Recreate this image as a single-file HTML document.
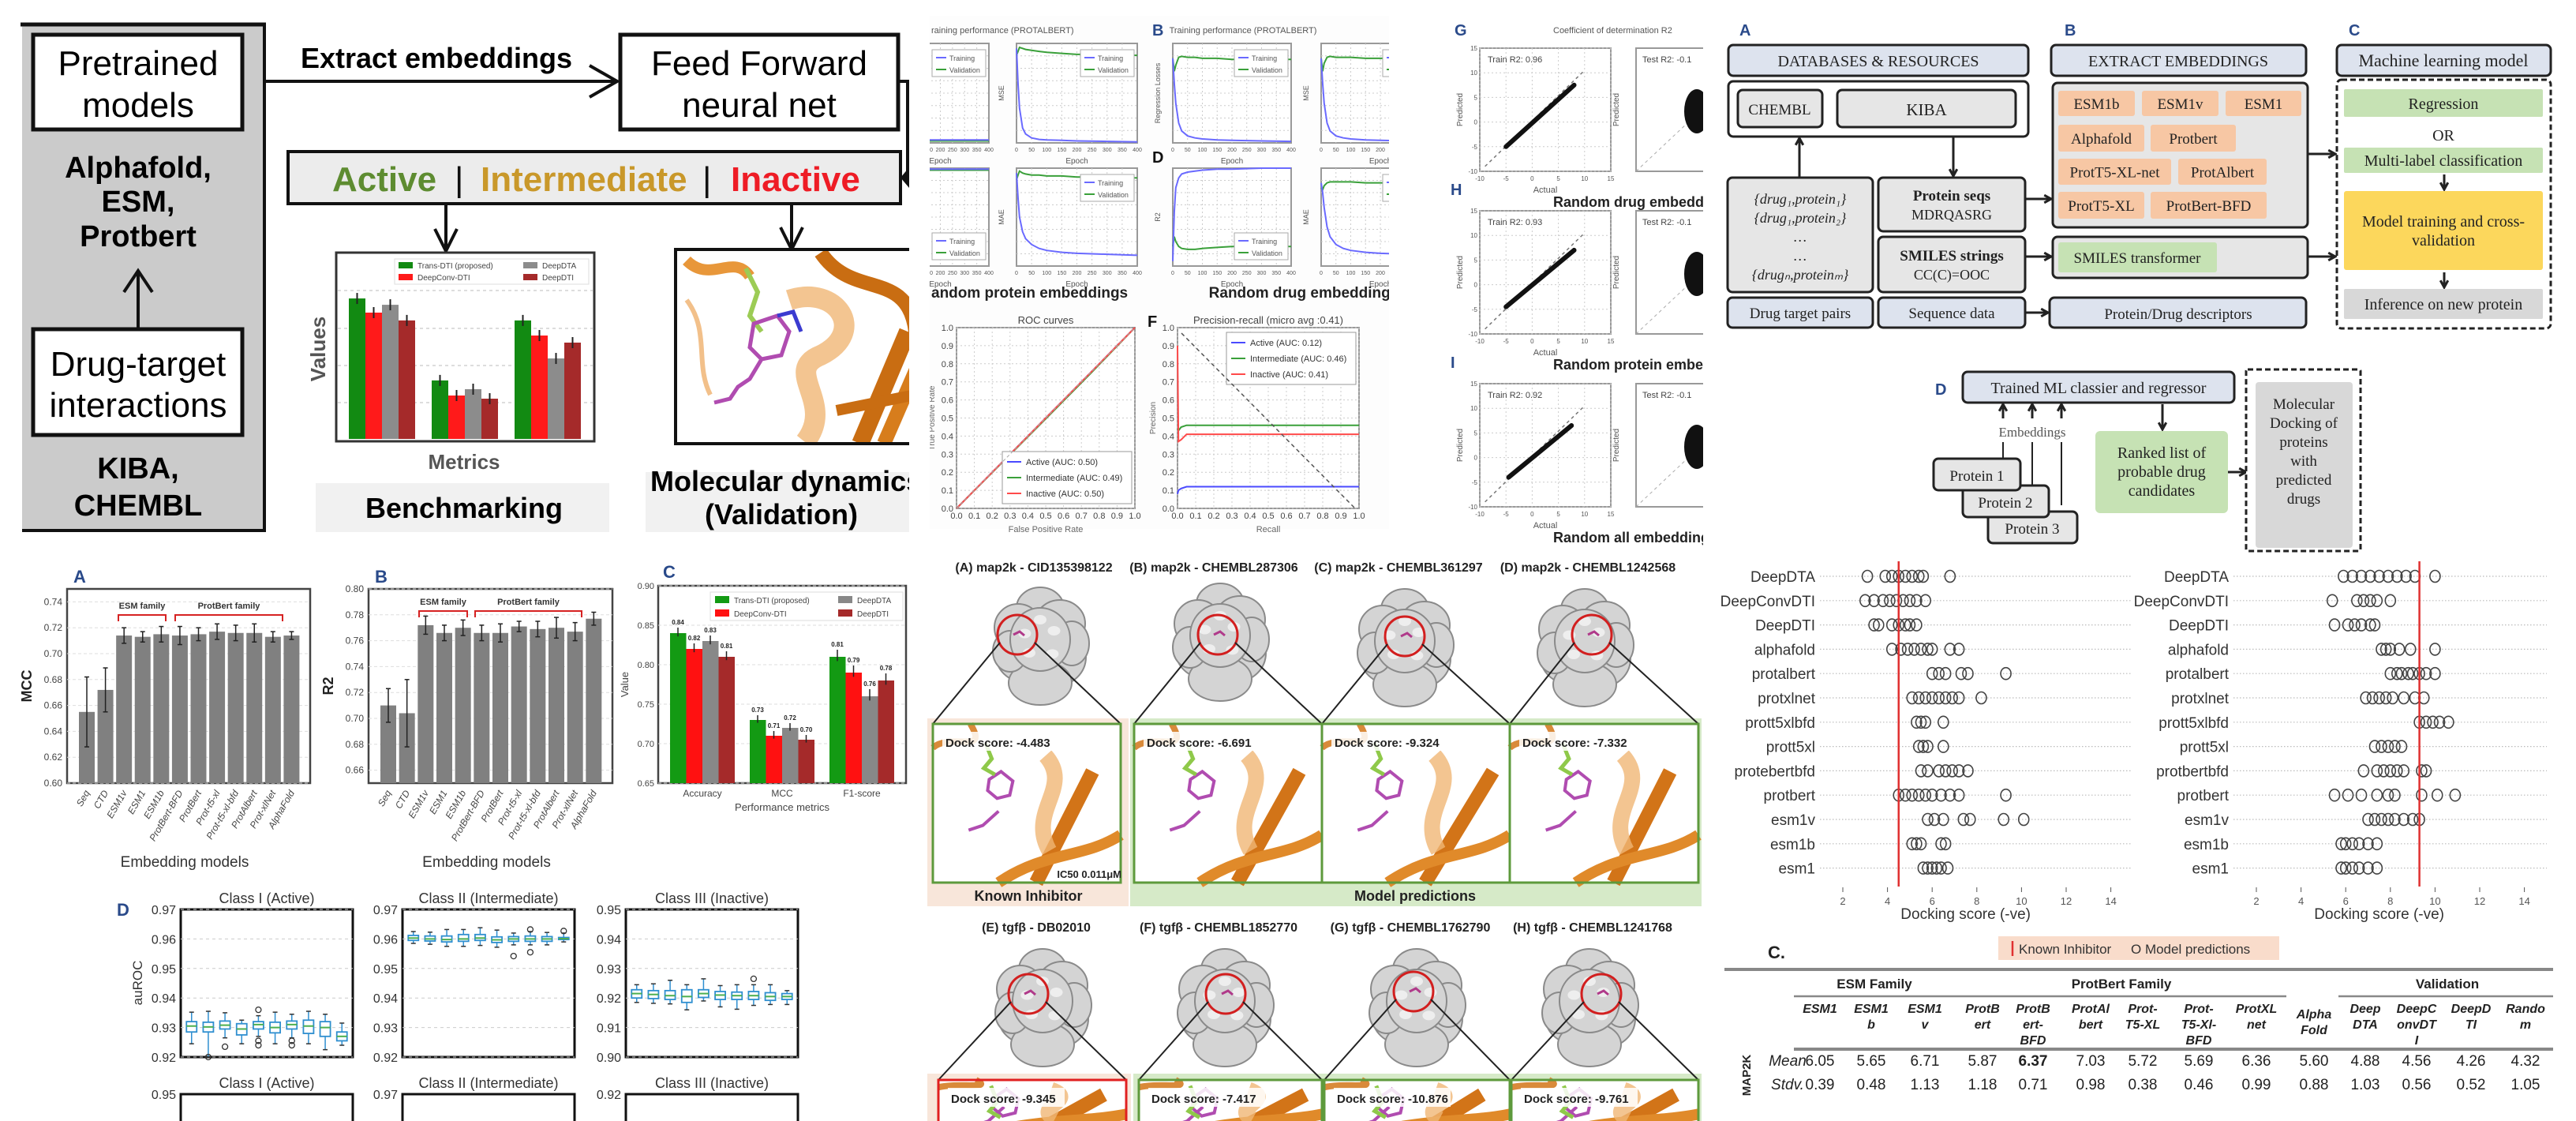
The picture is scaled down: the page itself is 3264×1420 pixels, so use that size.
<!DOCTYPE html>
<html><head><meta charset="utf-8">
<style>
html,body{margin:0;padding:0;background:#fff;}
svg{display:block;font-family:"Liberation Sans",sans-serif;}
</style></head>
<body>
<svg id="root" width="3264" height="1420" viewBox="0 0 3264 1420" xmlns="http://www.w3.org/2000/svg">
<defs>
<clipPath id="clipP1"><rect x="0" y="0" width="1152" height="700"/></clipPath>
<clipPath id="clipP2"><rect x="1178" y="0" width="582" height="700"/></clipPath>
<clipPath id="clipP3"><rect x="1760" y="0" width="398" height="700"/></clipPath>
<clipPath id="clipMD"><rect x="856" y="316" width="300" height="246"/></clipPath>
</defs>

<!-- ============ PANEL 1: overview ============ -->
<g clip-path="url(#clipP1)">
<rect x="28" y="29" width="307" height="643" fill="#cbcbcb"/>
<line x1="26" y1="31" x2="337" y2="31" stroke="#111" stroke-width="5"/>
<line x1="335" y1="29" x2="335" y2="674" stroke="#111" stroke-width="4"/>
<line x1="28" y1="672" x2="337" y2="672" stroke="#111" stroke-width="4"/>
<rect x="42" y="44" width="265" height="120" fill="#fff" stroke="#111" stroke-width="5"/>
<text x="175" y="95" font-size="44" text-anchor="middle">Pretrained</text>
<text x="175" y="148" font-size="44" text-anchor="middle">models</text>
<text x="175" y="225" font-size="38" font-weight="bold" text-anchor="middle">Alphafold,</text>
<text x="175" y="268" font-size="38" font-weight="bold" text-anchor="middle">ESM,</text>
<text x="175" y="312" font-size="38" font-weight="bold" text-anchor="middle">Protbert</text>
<line x1="175" y1="417" x2="175" y2="343" stroke="#111" stroke-width="4"/>
<path d="M157,370 L175,343 L193,370" fill="none" stroke="#111" stroke-width="4"/>
<rect x="42" y="417" width="265" height="134" fill="#fff" stroke="#111" stroke-width="5"/>
<text x="175" y="476" font-size="44" text-anchor="middle">Drug-target</text>
<text x="175" y="528" font-size="44" text-anchor="middle">interactions</text>
<text x="175" y="606" font-size="38" font-weight="bold" text-anchor="middle">KIBA,</text>
<text x="175" y="653" font-size="38" font-weight="bold" text-anchor="middle">CHEMBL</text>

<text x="553" y="86" font-size="36" font-weight="bold" text-anchor="middle">Extract embeddings</text>
<line x1="335" y1="103" x2="782" y2="103" stroke="#111" stroke-width="4"/>
<path d="M747,83 L782,103 L747,123" fill="none" stroke="#111" stroke-width="4"/>
<rect x="786" y="44" width="352" height="120" fill="#fff" stroke="#111" stroke-width="5"/>
<text x="962" y="95" font-size="44" text-anchor="middle">Feed Forward</text>
<text x="962" y="148" font-size="44" text-anchor="middle">neural net</text>
<polyline points="1138,103 1150,103 1150,225 1143,225" fill="none" stroke="#111" stroke-width="4"/>
<path d="M1152,212 L1141,225 L1152,238 Z" fill="#111"/>

<rect x="365" y="192" width="776" height="66" fill="#ececec" stroke="#111" stroke-width="4"/>
<text x="421" y="242" font-size="44" font-weight="bold" fill="#5e8c31">Active</text>
<text x="576" y="242" font-size="44" fill="#111">|</text>
<text x="609" y="242" font-size="44" font-weight="bold" fill="#c9982a">Intermediate</text>
<text x="890" y="242" font-size="44" fill="#111">|</text>
<text x="926" y="242" font-size="44" font-weight="bold" fill="#ee1c25">Inactive</text>
<line x1="565" y1="258" x2="565" y2="316" stroke="#111" stroke-width="4"/>
<path d="M551,290 L565,318 L579,290" fill="none" stroke="#111" stroke-width="4"/>
<line x1="1003" y1="258" x2="1003" y2="314" stroke="#111" stroke-width="4"/>
<path d="M989,288 L1003,316 L1017,288" fill="none" stroke="#111" stroke-width="4"/>

<rect x="426" y="320" width="327" height="239" fill="#fff" stroke="#333" stroke-width="3"/>
<g id="benchBars"></g>
<text transform="translate(412,442) rotate(-90)" font-size="26" font-weight="bold" fill="#555" text-anchor="middle">Values</text>
<text x="588" y="594" font-size="26" font-weight="bold" fill="#555" text-anchor="middle">Metrics</text>
<rect x="400" y="612" width="372" height="62" fill="#f1f1f1"/>
<text x="588" y="656" font-size="36" font-weight="bold" text-anchor="middle">Benchmarking</text>

<g clip-path="url(#clipMD)">
<rect x="856" y="316" width="300" height="246" fill="#fff"/>
<path d="M870,330 C900,360 930,320 950,350" stroke="#e8973a" stroke-width="14" fill="none"/>
<path d="M1040,320 C1080,380 1150,340 1160,420" stroke="#c96d12" stroke-width="18" fill="none"/>
<path d="M1000,380 C1060,360 1100,420 1040,450 C990,470 1060,510 1020,560" stroke="#f0b776" stroke-width="26" fill="none" opacity="0.8"/>
<path d="M1090,562 L1150,420" stroke="#c96d12" stroke-width="22" fill="none"/>
<path d="M1120,562 L1160,470" stroke="#d77d1c" stroke-width="18" fill="none"/>
<path d="M1060,520 L1160,500" stroke="#c96d12" stroke-width="14" fill="none"/>
<path d="M870,380 C900,420 880,460 900,500" stroke="#f2c08a" stroke-width="6" fill="none"/>
<path d="M945,340 L960,370 L950,400 L965,420" stroke="#9ccc55" stroke-width="6" fill="none"/>
<path d="M955,410 L985,400 L1000,420 L990,450 L965,455 L950,440 Z M965,455 L950,480 L935,490 L925,505 L905,510" stroke="#b04cb0" stroke-width="5" fill="none"/>
<path d="M985,400 L1005,395 L1015,420" stroke="#3b3bd0" stroke-width="5" fill="none"/>
</g>
<rect x="856" y="316" width="300" height="246" fill="none" stroke="#111" stroke-width="4"/>
<rect x="818" y="598" width="340" height="76" fill="#f1f1f1"/>
<text x="824" y="622" font-size="36" font-weight="bold">Molecular dynamics</text>
<text x="990" y="664" font-size="36" font-weight="bold" text-anchor="middle">(Validation)</text>
</g>

<!-- ============ PANEL 2: training curves ============ -->
<g id="p2" clip-path="url(#clipP2)"></g>
<!-- ============ PANEL 3: scatter ============ -->
<g id="p3" clip-path="url(#clipP3)"></g>
<!-- ============ PANEL 4: workflow ============ -->
<g id="p4"></g>
<!-- ============ bottom ============ -->
<g id="pBars"></g>
<g id="pBox"></g>
<g id="pDock"></g>
<g id="pDots"></g>
<g id="pTable"></g>
</svg>

<script>
// ---------------- DATA ----------------
const benchGroups = ["Accuracy", "MCC", "F1"];
const benchTrans = [0.754, 0.314, 0.636];
const benchConv = [0.678, 0.233, 0.555];
const benchDTA = [0.720, 0.267, 0.432];
const benchDTI = [0.636, 0.216, 0.517];

const epochs = [0, 5, 10, 20, 30, 50, 75, 100, 150, 200, 300, 400];
const trA1 = [0.03, 0.03, 0.03, 0.03, 0.03, 0.03, 0.03, 0.03, 0.03, 0.03, 0.03, 0.03];
const vaA1 = [0.02, 0.02, 0.02, 0.02, 0.02, 0.02, 0.02, 0.02, 0.02, 0.02, 0.02, 0.02];
const trB1 = [0.95, 0.6, 0.35, 0.15, 0.09, 0.05, 0.035, 0.03, 0.025, 0.02, 0.015, 0.01];
const vaB1 = [0.88, 0.92, 0.96, 0.95, 0.94, 0.93, 0.92, 0.91, 0.9, 0.89, 0.89, 0.88];
const trC1 = [0.85, 0.6, 0.4, 0.2, 0.12, 0.07, 0.05, 0.04, 0.03, 0.025, 0.02, 0.015];
const vaC1 = [0.85, 0.72, 0.78, 0.86, 0.87, 0.86, 0.86, 0.85, 0.85, 0.84, 0.84, 0.84];
const trD1 = [0.85, 0.6, 0.4, 0.2, 0.12, 0.07, 0.05, 0.04, 0.03, 0.025, 0.02, 0.015];
const vaD1 = [0.85, 0.72, 0.8, 0.86, 0.87, 0.86, 0.86, 0.86, 0.85, 0.85, 0.85, 0.85];
const trA2 = [0.99, 0.99, 0.99, 0.99, 0.99, 0.99, 0.99, 0.99, 0.99, 0.99, 0.99, 0.99];
const vaA2 = [0.98, 0.98, 0.98, 0.98, 0.98, 0.98, 0.98, 0.98, 0.98, 0.98, 0.98, 0.98];
const trB2 = [0.95, 0.7, 0.5, 0.35, 0.28, 0.22, 0.18, 0.16, 0.14, 0.13, 0.12, 0.11];
const vaB2 = [0.88, 0.93, 0.97, 0.95, 0.94, 0.93, 0.93, 0.92, 0.92, 0.91, 0.91, 0.9];
const trC2 = [0.05, 0.55, 0.8, 0.9, 0.94, 0.96, 0.97, 0.98, 0.99, 0.99, 1.0, 1.0];
const vaC2 = [0.2, 0.3, 0.25, 0.2, 0.18, 0.17, 0.17, 0.18, 0.19, 0.2, 0.2, 0.2];
const trD2 = [0.85, 0.75, 0.6, 0.4, 0.3, 0.22, 0.18, 0.16, 0.14, 0.13, 0.12, 0.11];
const vaD2 = [0.8, 0.78, 0.82, 0.85, 0.86, 0.86, 0.86, 0.86, 0.85, 0.85, 0.85, 0.85];

const rocFpr = [0, 0.25, 0.5, 0.75, 1.0];
const rocActive = [0, 0.25, 0.5, 0.75, 1.0];
const rocInter = [0, 0.248, 0.495, 0.745, 1.0];
const rocInact = [0, 0.25, 0.5, 0.75, 1.0];
const prRecall = [0, 0.005, 0.02, 0.05, 0.1, 0.2, 0.4, 0.6, 0.8, 1.0];
const prActive = [0.08, 0.1, 0.11, 0.12, 0.12, 0.12, 0.12, 0.12, 0.12, 0.12];
const prInter = [0.44, 0.43, 0.45, 0.46, 0.46, 0.46, 0.46, 0.46, 0.46, 0.46];
const prInact = [0.9, 0.37, 0.38, 0.41, 0.41, 0.41, 0.41, 0.41, 0.41, 0.41];
const rocTicks = [0, 0.1, 0.2, 0.3, 0.4, 0.5, 0.6, 0.7, 0.8, 0.9, 1.0];

const scatterTitles = ["Train R2: 0.96", "Train R2: 0.93", "Train R2: 0.92"];
const scatterLineStart = [[-5, -5], [-5, -4.5], [-4.5, -4]];
const scatterLineEnd = [[8, 7.5], [8, 7], [7.5, 6.5]];
const scatterTicks = [-10, -5, 0, 5, 10, 15];

const embModels = ["Seq", "CTD", "ESM1v", "ESM1", "ESM1b", "ProtBert-BFD", "ProtBert", "Prot-t5-xl", "Prot-t5-xl-bfd", "ProtAlbert", "Prot-xlNet", "AlphaFold"];
const mccVals = [0.655, 0.672, 0.714, 0.713, 0.715, 0.714, 0.715, 0.717, 0.716, 0.716, 0.713, 0.714];
const mccErr = [0.027, 0.017, 0.006, 0.004, 0.006, 0.007, 0.005, 0.006, 0.006, 0.007, 0.004, 0.003];
const mccTicks = [0.60, 0.62, 0.64, 0.66, 0.68, 0.70, 0.72, 0.74];
const r2Vals = [0.710, 0.704, 0.772, 0.766, 0.770, 0.766, 0.766, 0.771, 0.769, 0.770, 0.767, 0.777];
const r2Err = [0.013, 0.026, 0.007, 0.006, 0.006, 0.006, 0.007, 0.004, 0.006, 0.008, 0.007, 0.005];
const r2Ticks = [0.66, 0.68, 0.70, 0.72, 0.74, 0.76, 0.78, 0.80];

const perfGroups = ["Accuracy", "MCC", "F1-score"];
const perfTrans = [0.84, 0.73, 0.81];
const perfConv = [0.82, 0.71, 0.79];
const perfDTA = [0.83, 0.72, 0.76];
const perfDTI = [0.81, 0.705, 0.78];
const perfErr = [0.007, 0.006, 0.009];
const perfTicks = [0.65, 0.70, 0.75, 0.80, 0.85, 0.90];

const boxActive = [[0.9245,0.9285,0.9305,0.9320,0.9352],[0.9200,0.9285,0.9302,0.9318,0.9355],[0.9265,0.9295,0.9308,0.9322,0.9350],[0.9245,0.9275,0.9295,0.9313,0.9325],[0.9270,0.9295,0.9310,0.9320,0.9340],[0.9245,0.9282,0.9300,0.9318,0.9352],[0.9265,0.9295,0.9310,0.9322,0.9345],[0.9245,0.9280,0.9305,0.9325,0.9355],[0.9225,0.9270,0.9300,0.9320,0.9345],[0.9240,0.9255,0.9270,0.9285,0.9315]];
const outActive = [[], [0.9200], [0.9235], [], [0.9360, 0.9255, 0.9240], [], [0.9255, 0.9240], [], [], []];
const boxInter = [[0.9585,0.9595,0.9603,0.9612,0.9625],[0.9582,0.9593,0.9600,0.9610,0.9623],[0.9575,0.9590,0.9598,0.9610,0.9632],[0.9575,0.9592,0.9600,0.9615,0.9632],[0.9578,0.9595,0.9603,0.9615,0.9638],[0.9572,0.9588,0.9597,0.9607,0.9630],[0.9580,0.9592,0.9600,0.9608,0.9620],[0.9580,0.9592,0.9600,0.9610,0.9625],[0.9580,0.9592,0.9600,0.9608,0.9622],[0.9590,0.9598,0.9601,0.9605,0.9620]];
const outInter = [[], [], [], [], [], [], [0.9542], [0.9555, 0.9632], [], [0.9627]];
const boxInact = [[0.9185,0.9200,0.9215,0.9228,0.9245],[0.9182,0.9198,0.9212,0.9225,0.9248],[0.9180,0.9195,0.9208,0.9225,0.9260],[0.9160,0.9185,0.9205,0.9228,0.9245],[0.9190,0.9202,0.9215,0.9228,0.9265],[0.9170,0.9195,0.9210,0.9222,0.9242],[0.9162,0.9195,0.9208,0.9220,0.9245],[0.9175,0.9195,0.9208,0.9222,0.9245],[0.9178,0.9192,0.9205,0.9218,0.9245],[0.9178,0.9195,0.9205,0.9215,0.9225]];
const outInact = [[], [], [], [], [], [], [], [0.9265], [], []];

const dockLabels = ["DeepDTA","DeepConvDTI","DeepDTI","alphafold","protalbert","protxlnet","prott5xlbfd","prott5xl","protebertbfd","protbert","esm1v","esm1b","esm1"];
const dockLabelsRight = ["DeepDTA","DeepConvDTI","DeepDTI","alphafold","protalbert","protxlnet","prott5xlbfd","prott5xl","protbertbfd","protbert","esm1v","esm1b","esm1"];
const dockLeft = [[3.1,3.9,4.2,4.5,4.8,5.1,5.4,5.6,6.8],[3.0,3.4,3.8,4.1,4.4,4.7,5.0,5.3,5.7],[3.4,3.6,4.2,4.5,4.8,5.0,5.3],[4.2,4.6,4.9,5.2,5.5,5.8,6.0,6.8,7.2],[6.0,6.3,6.6,7.3,7.6,9.3],[5.1,5.4,5.7,6.0,6.3,6.6,6.9,7.2,8.2],[5.3,5.5,5.7,6.5],[5.4,5.6,5.8,6.5],[5.5,5.8,6.3,6.6,6.9,7.2,7.6],[4.5,4.8,5.1,5.4,5.7,6.0,6.4,6.8,7.2,9.3],[5.8,6.1,6.5,7.4,7.7,9.2,10.1],[5.1,5.3,5.5,6.4,6.6],[5.6,5.8,6.0,6.2,6.4,6.7]];
const dockRight = [[5.9,6.3,6.7,7.1,7.5,7.9,8.3,8.7,9.1,10.0],[5.4,6.5,6.8,7.1,7.4,8.0],[5.5,6.1,6.4,6.7,7.1,7.3],[7.6,7.8,8.0,8.4,8.9,10.0],[8.0,8.3,8.5,8.8,9.0,9.3,9.6,10.0],[6.9,7.2,7.5,7.8,8.1,8.6,9.1,9.5],[9.3,9.6,9.9,10.2,10.6],[7.3,7.6,7.9,8.2,8.5],[6.8,7.4,7.7,8.0,8.3,8.6,9.4,9.6],[5.5,6.1,6.7,7.4,7.9,8.2,9.4,10.1,10.9],[7.0,7.3,7.6,7.9,8.2,8.6,9.0,9.3],[5.8,6.0,6.3,6.6,7.0,7.4],[5.8,6.0,6.3,6.6,7.0,7.4]];
const knownLeft = [4.5];
const knownRight = [9.3];
const dockTicks = [2, 4, 6, 8, 10, 12, 14];

const tableCols = [["ESM1"],["ESM1","b"],["ESM1","v"],["ProtB","ert"],["ProtB","ert-","BFD"],["ProtAl","bert"],["Prot-","T5-XL"],["Prot-","T5-Xl-","BFD"],["ProtXL","net"],["Alpha","Fold"],["Deep","DTA"],["DeepC","onvDT","I"],["DeepD","TI"],["Rando","m"]];
const tableMean = ["6.05","5.65","6.71","5.87","6.37","7.03","5.72","5.69","6.36","5.60","4.88","4.56","4.26","4.32"];
const tableStd = ["0.39","0.48","1.13","1.18","0.71","0.98","0.38","0.46","0.99","0.88","1.03","0.56","0.52","1.05"];

const dockTitles = ["(A) map2k - CID135398122","(B) map2k  - CHEMBL287306","(C) map2k - CHEMBL361297","(D) map2k - CHEMBL1242568","(E) tgfβ - DB02010","(F) tgfβ - CHEMBL1852770","(G) tgfβ - CHEMBL1762790","(H) tgfβ - CHEMBL1241768"];
const dockScores = ["-4.483","-6.691","-9.324","-7.332","-9.345","-7.417","-10.876","-9.761"];

// ---------------- HELPERS ----------------
const NS = "http://www.w3.org/2000/svg";
function mk(parent, tag, attrs, name, text) {
  const el = document.createElementNS(NS, tag);
  for (const k in attrs) el.setAttribute(k, attrs[k]);
  
  
  if (text !== undefined) el.textContent = text;
  parent.appendChild(el);
  return el;
}
function lin(d0, d1, r0, r1) { return v => r0 + (v - d0) / (d1 - d0) * (r1 - r0); }
function pts(xs, ys, sx, sy) { return xs.map((x, i) => sx(x).toFixed(1) + "," + sy(ys[i]).toFixed(1)).join(" "); }
const $ = id => document.getElementById(id);

// ---------------- benchmark bars (top-left) ----------------
(function () {
  const g = $('benchBars');
  const sy = lin(0, 1, 556, 320);
  [368, 416, 463, 510].forEach(y => mk(g, 'line', {x1: 428, x2: 751, y1: y, y2: y, stroke: '#bbb', 'stroke-dasharray': '4,4'}, 'bench-gridline'));
  const series = [benchTrans, benchConv, benchDTA, benchDTI];
  const cols = ['#128a12', '#ff1a1a', '#8c8c8c', '#a52a2a'];
  const gx = [442, 547, 652];
  series.forEach((s, si) => s.forEach((v, gi) => {
    const x = gx[gi] + si * 21;
    mk(g, 'rect', {x: x, y: sy(v), width: 21, height: sy(0) - sy(v), fill: cols[si]}, 'bench-bar');
    mk(g, 'line', {x1: x + 10.5, x2: x + 10.5, y1: sy(v) - 7, y2: sy(v) + 7, stroke: '#222', 'stroke-width': 2}, 'bench-errorbar');
  }));
  mk(g, 'rect', {x: 500, y: 328, width: 246, height: 32, fill: '#fff', stroke: '#ddd'}, 'bench-legend');
  [['#128a12', 'Trans-DTI (proposed)', 505, 337], ['#ff1a1a', 'DeepConv-DTI', 505, 352], ['#8c8c8c', 'DeepDTA', 663, 337], ['#a52a2a', 'DeepDTI', 663, 352]].forEach(e => {
    mk(g, 'rect', {x: e[2], y: e[3] - 5, width: 18, height: 8, fill: e[0]}, 'bench-legend-swatch');
    mk(g, 'text', {x: e[2] + 24, y: e[3] + 3, 'font-size': 10, fill: '#444'}, 'bench-legend-label', e[1]);
  });
})();

// ---------------- PANEL 2: training plots ----------------
(function () {
  const g = $('p2');
  mk(g, 'rect', {x: 1178, y: 20, width: 582, height: 650, fill: '#fdfdfd'}, 'training-panel-bg');
  function tplot(x, y, w, h, tr, va, legendBottom, name, ylab) {
    const sx = lin(0, 400, x, x + w), sy = lin(0, 1, y + h, y);
    mk(g, 'rect', {x: x, y: y, width: w, height: h, fill: '#fff', stroke: '#999', 'stroke-width': 2}, name + '-frame');
    for (let i = 1; i < 8; i++) mk(g, 'line', {x1: x + w * i / 8, x2: x + w * i / 8, y1: y, y2: y + h, stroke: '#ccc', 'stroke-dasharray': '2,3'}, name + '-vgrid');
    for (let i = 1; i < 8; i++) mk(g, 'line', {x1: x, x2: x + w, y1: y + h * i / 8, y2: y + h * i / 8, stroke: '#ccc', 'stroke-dasharray': '2,3'}, name + '-hgrid');
    mk(g, 'polyline', {points: pts(epochs, va, sx, sy), fill: 'none', stroke: '#3aa03a', 'stroke-width': 2}, name + '-validation-line');
    mk(g, 'polyline', {points: pts(epochs, tr, sx, sy), fill: 'none', stroke: '#6a6aff', 'stroke-width': 2}, name + '-training-line');
    const ly = legendBottom ? y + h - 42 : y + 8;
    const lx = x + w - 72;
    mk(g, 'rect', {x: lx, y: ly, width: 68, height: 34, fill: '#fff', stroke: '#aaa'}, name + '-legend');
    mk(g, 'line', {x1: lx + 5, x2: lx + 18, y1: ly + 10, y2: ly + 10, stroke: '#6a6aff', 'stroke-width': 2}, name + '-legend-train-swatch');
    mk(g, 'text', {x: lx + 22, y: ly + 14, 'font-size': 9, fill: '#555'}, name + '-legend-train', 'Training');
    mk(g, 'line', {x1: lx + 5, x2: lx + 18, y1: ly + 25, y2: ly + 25, stroke: '#3aa03a', 'stroke-width': 2}, name + '-legend-val-swatch');
    mk(g, 'text', {x: lx + 22, y: ly + 29, 'font-size': 9, fill: '#555'}, name + '-legend-val', 'Validation');
    [0, 50, 100, 150, 200, 250, 300, 350, 400].forEach(t => mk(g, 'text', {x: sx(t), y: y + h + 11, 'font-size': 7, 'text-anchor': 'middle', fill: '#555'}, name + '-xtick', t));
    mk(g, 'text', {x: x + w / 2, y: y + h + 26, 'font-size': 10, 'text-anchor': 'middle', fill: '#555'}, name + '-xlabel', 'Epoch');
    if (ylab) mk(g, 'text', {transform: `translate(${x - 16},${y + h / 2}) rotate(-90)`, 'font-size': 9, 'text-anchor': 'middle', fill: '#555'}, name + '-ylabel', ylab);
  }
  tplot(1130, 55, 123, 126, trA1, vaA1, false, 'train-a1', '');
  tplot(1288, 55, 153, 126, trB1, vaB1, false, 'train-b1', 'MSE');
  tplot(1486, 55, 150, 126, trC1, vaC1, false, 'train-c1', 'Regression Losses');
  tplot(1674, 55, 150, 126, trD1, vaD1, false, 'train-d1', 'MSE');
  tplot(1130, 213, 123, 124, trA2, vaA2, true, 'train-a2', '');
  tplot(1288, 213, 153, 124, trB2, vaB2, false, 'train-b2', 'MAE');
  tplot(1486, 213, 150, 124, trC2, vaC2, true, 'train-c2', 'R2');
  tplot(1674, 213, 150, 124, trD2, vaD2, false, 'train-d2', 'MAE');
  mk(g, 'text', {x: 1180, y: 42, 'font-size': 11, fill: '#555'}, 'training-title-a', 'raining performance (PROTALBERT)');
  mk(g, 'text', {x: 1575, y: 42, 'font-size': 11, fill: '#555', 'text-anchor': 'middle'}, 'training-title-b', 'Training performance (PROTALBERT)');
  mk(g, 'text', {x: 1460, y: 45, 'font-size': 20, 'font-weight': 'bold', fill: '#2a4a8a'}, 'panel-label-b', 'B');
  mk(g, 'text', {x: 1460, y: 206, 'font-size': 20, 'font-weight': 'bold', fill: '#111'}, 'panel-label-d', 'D');
  mk(g, 'text', {x: 1180, y: 377, 'font-size': 19, 'font-weight': 'bold', fill: '#222'}, 'random-protein-title', 'andom protein embeddings');
  mk(g, 'text', {x: 1652, y: 377, 'font-size': 19, 'font-weight': 'bold', fill: '#222', 'text-anchor': 'middle'}, 'random-drug-title', 'Random drug embeddings');

  function rocplot(x, y, w, h, title, xs, ys, cols, labels, legendTop, name, xlabel, ylabel) {
    const sx = lin(0, 1, x, x + w), sy = lin(0, 1, y + h, y);
    mk(g, 'rect', {x: x, y: y, width: w, height: h, fill: '#fff', stroke: '#999', 'stroke-width': 2}, name + '-frame');
    rocTicks.forEach(t => {
      mk(g, 'line', {x1: sx(t), x2: sx(t), y1: y, y2: y + h, stroke: '#ccc', 'stroke-dasharray': '2,3'}, name + '-vgrid');
      mk(g, 'line', {x1: x, x2: x + w, y1: sy(t), y2: sy(t), stroke: '#ccc', 'stroke-dasharray': '2,3'}, name + '-hgrid');
      mk(g, 'text', {x: sx(t), y: y + h + 13, 'font-size': 11, 'text-anchor': 'middle', fill: '#444'}, name + '-xtick', t.toFixed(1));
      mk(g, 'text', {x: x - 4, y: sy(t) + 4, 'font-size': 11, 'text-anchor': 'end', fill: '#444'}, name + '-ytick', t.toFixed(1));
    });
    mk(g, 'text', {x: x + w / 2, y: y - 5, 'font-size': 13, 'text-anchor': 'middle', fill: '#444'}, name + '-title', title);
    mk(g, 'text', {x: x + w / 2, y: y + h + 30, 'font-size': 11, 'text-anchor': 'middle', fill: '#666'}, name + '-xlabel', xlabel);
    mk(g, 'text', {transform: `translate(${x - 28},${y + h / 2}) rotate(-90)`, 'font-size': 10, 'text-anchor': 'middle', fill: '#666'}, name + '-ylabel', ylabel);
    ys.forEach((s, i) => mk(g, 'polyline', {points: pts(xs, s, sx, sy), fill: 'none', stroke: cols[i], 'stroke-width': 2}, name + '-curve'));
    const lx = x + w - 168, ly = legendTop ? y + 6 : y + h - 72;
    mk(g, 'rect', {x: lx, y: ly, width: 164, height: 66, fill: '#fff', stroke: '#999'}, name + '-legend');
    labels.forEach((l, i) => {
      mk(g, 'line', {x1: lx + 6, x2: lx + 24, y1: ly + 13 + i * 20, y2: ly + 13 + i * 20, stroke: cols[i], 'stroke-width': 2}, name + '-legend-swatch');
      mk(g, 'text', {x: lx + 30, y: ly + 17 + i * 20, 'font-size': 11, fill: '#333'}, name + '-legend-label', l);
    });
  }
  rocplot(1212, 415, 226, 229, 'ROC curves', rocFpr, [rocActive, rocInter, rocInact], ['#4a4aff', '#3aa03a', '#ff4a4a'], ['Active (AUC: 0.50)', 'Intermediate (AUC: 0.49)', 'Inactive (AUC: 0.50)'], false, 'roc', 'False Positive Rate', 'True Positive Rate');
  mk(g, 'line', {x1: 1212, y1: 644, x2: 1438, y2: 415, stroke: '#aaa', 'stroke-dasharray': '4,3'}, 'roc-chance-line');
  rocplot(1492, 415, 230, 229, 'Precision-recall (micro avg :0.41)', prRecall, [prActive, prInter, prInact], ['#4a4aff', '#3aa03a', '#ff4a4a'], ['Active (AUC: 0.12)', 'Intermediate (AUC: 0.46)', 'Inactive (AUC: 0.41)'], true, 'pr', 'Recall', 'Precision');
  mk(g, 'line', {x1: 1497, y1: 422, x2: 1717, y2: 644, stroke: '#555', 'stroke-dasharray': '5,4', 'stroke-width': 1.5}, 'pr-iso-line');
  mk(g, 'text', {x: 1454, y: 414, 'font-size': 20, 'font-weight': 'bold', fill: '#111'}, 'panel-label-f', 'F');
})();

// ---------------- PANEL 3: scatter ----------------
(function () {
  const g = $('p3');
  mk(g, 'text', {x: 1843, y: 45, 'font-size': 20, 'font-weight': 'bold', fill: '#2a4a8a'}, 'panel-label-g', 'G');
  mk(g, 'text', {x: 1968, y: 42, 'font-size': 11, fill: '#555'}, 'scatter-title', 'Coefficient of determination R2');
  const rows = [61, 267, 486];
  const labs = ['G', 'H', 'I'];
  const caps = ['Random drug embeddings', 'Random protein embeddings', 'Random all embeddings'];
  rows.forEach((y0, r) => {
    const h = 156, x0 = 1875, w = 166;
    const sx = lin(-10, 15, x0, x0 + w), sy = lin(-10, 15, y0 + h, y0);
    mk(g, 'rect', {x: x0, y: y0, width: w, height: h, fill: '#fff', stroke: '#999', 'stroke-width': 2}, 'train-scatter-frame');
    scatterTicks.forEach(t => {
      mk(g, 'line', {x1: sx(t), x2: sx(t), y1: y0, y2: y0 + h, stroke: '#ccc', 'stroke-dasharray': '2,3'}, 'scatter-vgrid');
      mk(g, 'line', {x1: x0, x2: x0 + w, y1: sy(t), y2: sy(t), stroke: '#ccc', 'stroke-dasharray': '2,3'}, 'scatter-hgrid');
      mk(g, 'text', {x: sx(t), y: y0 + h + 12, 'font-size': 8, 'text-anchor': 'middle', fill: '#555'}, 'scatter-xtick', t);
      mk(g, 'text', {x: x0 - 3, y: sy(t) + 3, 'font-size': 8, 'text-anchor': 'end', fill: '#555'}, 'scatter-ytick', t);
    });
    mk(g, 'line', {x1: sx(-9), y1: sy(-9), x2: sx(10), y2: sy(10.5), stroke: '#777', 'stroke-dasharray': '4,4', 'stroke-width': 1.5}, 'identity-line');
    mk(g, 'line', {x1: sx(scatterLineStart[r][0]), y1: sy(scatterLineStart[r][1]), x2: sx(scatterLineEnd[r][0]), y2: sy(scatterLineEnd[r][1]), stroke: '#111', 'stroke-width': 6, 'stroke-linecap': 'round'}, 'train-prediction-points');
    mk(g, 'text', {x: x0 + 10, y: y0 + 18, 'font-size': 11, fill: '#444'}, 'train-r2-label', scatterTitles[r]);
    mk(g, 'text', {transform: `translate(${x0 - 22},${y0 + h / 2}) rotate(-90)`, 'font-size': 10, 'text-anchor': 'middle', fill: '#555'}, 'scatter-ylabel', 'Predicted');
    mk(g, 'text', {x: x0 + w / 2, y: y0 + h + 27, 'font-size': 11, 'text-anchor': 'middle', fill: '#555'}, 'scatter-xlabel', 'Actual');
    const tx = 2073;
    mk(g, 'rect', {x: tx, y: y0, width: 166, height: h, fill: '#fff', stroke: '#999', 'stroke-width': 2}, 'test-scatter-frame');
    mk(g, 'line', {x1: tx, y1: y0 + h, x2: tx + 166, y2: y0, stroke: '#aaa', 'stroke-dasharray': '4,4'}, 'test-identity-line');
    mk(g, 'ellipse', {cx: 2150, cy: y0 + 80, rx: 16, ry: 28, fill: '#111'}, 'test-prediction-cloud');
    mk(g, 'text', {x: tx + 8, y: y0 + 18, 'font-size': 11, fill: '#444'}, 'test-r2-label', 'Test R2: -0.1');
    mk(g, 'text', {transform: `translate(${tx - 22},${y0 + h / 2}) rotate(-90)`, 'font-size': 10, 'text-anchor': 'middle', fill: '#555'}, 'test-ylabel', 'Predicted');
    if (r > 0) mk(g, 'text', {x: 1838, y: y0 - 20, 'font-size': 20, 'font-weight': 'bold', fill: '#2a4a8a'}, 'panel-label', labs[r]);
    mk(g, 'text', {x: 1968, y: y0 + h + 45, 'font-size': 18, 'font-weight': 'bold', fill: '#222'}, 'scatter-caption', caps[r]);
  });
})();

// ---------------- PANEL 4: workflow ----------------
(function () {
  const g = $('p4');
  function box(x, y, w, h, fill, name, opts) {
    opts = opts || {};
    return mk(g, 'rect', {x: x, y: y, width: w, height: h, rx: opts.rx || 6, fill: fill, stroke: opts.stroke || '#222', 'stroke-width': opts.sw !== undefined ? opts.sw : 3, 'stroke-dasharray': opts.dash || 'none'}, name);
  }
  function txt(x, y, s, size, name, opts) {
    opts = opts || {};
    return mk(g, 'text', {x: x, y: y, 'font-size': size, 'text-anchor': 'middle', fill: opts.fill || '#222', 'font-weight': opts.bold ? 'bold' : 'normal', 'font-family': '"Liberation Serif",serif', 'font-style': opts.italic ? 'italic' : 'normal'}, name, s);
  }
  function arrow(x1, y1, x2, y2, name) {
    mk(g, 'line', {x1: x1, y1: y1, x2: x2, y2: y2, stroke: '#222', 'stroke-width': 3}, name);
    const a = Math.atan2(y2 - y1, x2 - x1), L = 10;
    mk(g, 'path', {d: `M${x2 - L * Math.cos(a - 0.5)},${y2 - L * Math.sin(a - 0.5)} L${x2},${y2} L${x2 - L * Math.cos(a + 0.5)},${y2 - L * Math.sin(a + 0.5)}`, fill: 'none', stroke: '#222', 'stroke-width': 3}, name + '-head');
  }
  const blue = '#dde3ee', grey = '#e6e6e6', orange = '#f7c7a4', green = '#c6e2b4', yellow = '#fcd75c', dgrey = '#d8d8d8';
  ['A', 'B', 'C'].forEach((l, i) => mk(g, 'text', {x: [2204, 2616, 2976][i], y: 45, 'font-size': 20, 'font-weight': 'bold', fill: '#2a4a8a'}, 'panel-label', l));
  box(2190, 57, 380, 39, blue, 'databases-header'); txt(2380, 84, 'DATABASES & RESOURCES', 20, 'databases-header-text');
  box(2599, 57, 323, 39, blue, 'extract-embeddings-header'); txt(2760, 84, 'EXTRACT EMBEDDINGS', 20, 'extract-embeddings-header-text');
  box(2961, 57, 271, 39, blue, 'ml-model-header'); txt(3096, 84, 'Machine learning model', 22, 'ml-model-header-text');
  box(2190, 103, 380, 70, '#fff', 'database-container');
  box(2202, 114, 107, 47, grey, 'chembl-box'); txt(2255, 145, 'CHEMBL', 19, 'chembl-text');
  box(2328, 114, 226, 47, grey, 'kiba-box'); txt(2441, 146, 'KIBA', 21, 'kiba-text');
  arrow(2280, 225, 2280, 175, 'pairs-to-db-arrow');
  arrow(2475, 173, 2475, 223, 'db-to-seq-arrow');
  box(2189, 225, 184, 145, grey, 'drug-protein-pairs-box');
  ['{drug₁,protein₁}', '{drug₁,protein₂}', '…', '…', '{drugₙ,proteinₘ}'].forEach((s, i) => txt(2281, 258 + i * 24, s, 18, 'pair-entry', {italic: true}));
  box(2380, 225, 186, 68, grey, 'protein-seqs-box'); txt(2473, 254, 'Protein seqs', 19, 'protein-seqs-title', {bold: true}); txt(2473, 278, 'MDRQASRG', 18, 'protein-seqs-example');
  box(2380, 300, 186, 70, grey, 'smiles-box'); txt(2473, 330, 'SMILES strings', 19, 'smiles-title', {bold: true}); txt(2473, 354, 'CC(C)=OOC', 18, 'smiles-example');
  box(2189, 377, 184, 38, blue, 'drug-target-pairs-box'); txt(2281, 403, 'Drug target pairs', 19, 'drug-target-pairs-text');
  box(2380, 377, 186, 38, blue, 'sequence-data-box'); txt(2473, 403, 'Sequence data', 19, 'sequence-data-text');
  box(2597, 377, 325, 38, blue, 'descriptors-box'); txt(2760, 404, 'Protein/Drug descriptors', 19, 'descriptors-text');
  arrow(2566, 252, 2599, 252, 'seq-to-embed-arrow');
  arrow(2566, 325, 2599, 325, 'smiles-to-transformer-arrow');
  arrow(2566, 396, 2595, 396, 'seqdata-to-descriptors-arrow');
  box(2601, 105, 323, 183, grey, 'embeddings-container');
  [[2608, 115, 97, 32, 'ESM1b'], [2714, 115, 97, 32, 'ESM1v'], [2820, 115, 96, 32, 'ESM1'], [2608, 158, 109, 34, 'Alphafold'], [2725, 158, 108, 34, 'Protbert'], [2608, 201, 143, 33, 'ProtT5-XL-net'], [2760, 201, 112, 33, 'ProtAlbert'], [2608, 243, 109, 34, 'ProtT5-XL'], [2725, 243, 147, 34, 'ProtBert-BFD']].forEach(b => {
    box(b[0], b[1], b[2], b[3], orange, 'embedding-model-chip', {sw: 0, rx: 3});
    txt(b[0] + b[2] / 2, b[1] + b[3] / 2 + 7, b[4], 19, 'embedding-model-name');
  });
  box(2601, 300, 323, 52, grey, 'smiles-transformer-container');
  box(2608, 307, 201, 38, green, 'smiles-transformer-chip', {sw: 0, rx: 3}); txt(2708, 333, 'SMILES transformer', 19, 'smiles-transformer-text');
  arrow(2924, 195, 2959, 195, 'embed-to-ml-arrow');
  arrow(2924, 325, 2959, 325, 'transformer-to-ml-arrow');
  box(2961, 101, 271, 315, '#fff', 'ml-dashed-container', {dash: '7,4'});
  box(2970, 113, 252, 35, green, 'regression-chip', {sw: 0, rx: 2}); txt(3096, 138, 'Regression', 20, 'regression-text');
  txt(3096, 178, 'OR', 20, 'or-text');
  box(2970, 187, 252, 32, green, 'multilabel-chip', {sw: 0, rx: 2}); txt(3096, 210, 'Multi-label classification', 20, 'multilabel-text');
  arrow(3097, 221, 3097, 240, 'to-training-arrow');
  box(2970, 242, 252, 100, yellow, 'training-chip', {sw: 0, rx: 3}); txt(3096, 287, 'Model training and cross-', 20, 'training-text-1'); txt(3096, 311, 'validation', 20, 'training-text-2');
  arrow(3097, 345, 3097, 364, 'to-inference-arrow');
  box(2970, 366, 252, 38, dgrey, 'inference-chip', {sw: 0, rx: 2}); txt(3096, 392, 'Inference on new protein', 20, 'inference-text');
  mk(g, 'text', {x: 2452, y: 500, 'font-size': 20, 'font-weight': 'bold', fill: '#2a4a8a'}, 'panel-label-d', 'D');
  box(2487, 471, 344, 39, blue, 'trained-ml-box'); txt(2659, 498, 'Trained ML classier and regressor', 20, 'trained-ml-text');
  [2538, 2575, 2612].forEach(x => { arrow(x, 530, x, 512, 'embedding-up-arrow'); mk(g, 'line', {x1: x, y1: 560, x2: x, y2: 640, stroke: '#222', 'stroke-width': 2}, 'embedding-line'); });
  txt(2575, 553, 'Embeddings', 17, 'embeddings-label', {fill: '#555'});
  box(2519, 648, 113, 40, grey, 'protein-3-box'); txt(2575, 676, 'Protein 3', 19, 'protein-3-text');
  box(2487, 615, 109, 40, grey, 'protein-2-box'); txt(2541, 643, 'Protein 2', 19, 'protein-2-text');
  box(2450, 581, 110, 40, grey, 'protein-1-box'); txt(2505, 609, 'Protein 1', 19, 'protein-1-text');
  arrow(2740, 512, 2740, 544, 'to-ranked-arrow');
  box(2655, 546, 168, 104, green, 'ranked-list-chip', {sw: 0, rx: 6});
  txt(2739, 580, 'Ranked list of', 20, 'ranked-text-1'); txt(2739, 604, 'probable drug', 20, 'ranked-text-2'); txt(2739, 628, 'candidates', 20, 'ranked-text-3');
  arrow(2823, 598, 2846, 598, 'ranked-to-docking-arrow');
  box(2846, 468, 145, 230, '#fff', 'docking-dashed-box', {dash: '7,4', rx: 2});
  box(2858, 484, 123, 210, dgrey, 'docking-chip', {sw: 0, rx: 4});
  ['Molecular', 'Docking of', 'proteins', 'with', 'predicted', 'drugs'].forEach((s, i) => txt(2919, 518 + i * 24, s, 19, 'docking-text'));
})();

// ---------------- bottom-left bar charts ----------------
(function () {
  const g = $('pBars');
  function barChart(x0, x1, y0, y1, vals, errs, dmin, dmax, ticks, ylab, label, fams, name) {
    const sy = lin(dmin, dmax, y1, y0);
    mk(g, 'rect', {x: x0, y: y0, width: x1 - x0, height: y1 - y0, fill: '#fff', stroke: '#444', 'stroke-width': 2.5}, name + '-frame');
    ticks.forEach(t => {
      mk(g, 'line', {x1: x0, x2: x1, y1: sy(t), y2: sy(t), stroke: '#ddd', 'stroke-dasharray': '4,3'}, name + '-gridline');
      mk(g, 'text', {x: x0 - 6, y: sy(t) + 4, 'font-size': 12, 'text-anchor': 'end', fill: '#444'}, name + '-ytick', t.toFixed(2));
    });
    const step = (x1 - x0 - 25) / vals.length;
    vals.forEach((v, i) => {
      const cx = x0 + 25 + step * i;
      mk(g, 'rect', {x: cx - 10, y: sy(v), width: 20, height: y1 - sy(v), fill: '#808080'}, name + '-bar');
      mk(g, 'line', {x1: cx, x2: cx, y1: sy(v + errs[i]), y2: sy(v - errs[i]), stroke: '#222', 'stroke-width': 1.5}, name + '-errorbar');
      mk(g, 'line', {x1: cx - 3, x2: cx + 3, y1: sy(v + errs[i]), y2: sy(v + errs[i]), stroke: '#222', 'stroke-width': 1.5}, name + '-errorcap');
      mk(g, 'line', {x1: cx - 3, x2: cx + 3, y1: sy(v - errs[i]), y2: sy(v - errs[i]), stroke: '#222', 'stroke-width': 1.5}, name + '-errorcap');
      mk(g, 'text', {transform: `translate(${cx + 4},${y1 + 12}) rotate(-60)`, 'font-size': 12, 'text-anchor': 'end', 'font-style': 'italic', fill: '#444'}, name + '-xtick', embModels[i]);
    });
    mk(g, 'text', {transform: `translate(${x0 - 45},${(y0 + y1) / 2}) rotate(-90)`, 'font-size': 18, 'font-weight': 'bold', 'text-anchor': 'middle', fill: '#222'}, name + '-ylabel', ylab);
    mk(g, 'text', {x: (x0 + x1) / 2 - 5, y: 1098, 'font-size': 19, 'text-anchor': 'middle', fill: '#333'}, name + '-xlabel', 'Embedding models');
    mk(g, 'text', {x: x0 + 8, y: 738, 'font-size': 22, 'font-weight': 'bold', fill: '#2a4a8a'}, name + '-panel-label', label);
    fams.forEach(f => {
      mk(g, 'path', {d: `M${f[0]},${f[3] + 8} L${f[0]},${f[3]} L${f[1]},${f[3]} L${f[1]},${f[3] + 8}`, fill: 'none', stroke: '#d62222', 'stroke-width': 2}, name + '-family-bracket');
      mk(g, 'text', {x: (f[0] + f[1]) / 2, y: f[3] - 8, 'font-size': 11, 'font-weight': 'bold', 'text-anchor': 'middle', fill: '#333'}, name + '-family-label', f[2]);
    });
  }
  barChart(85, 393, 746, 992, mccVals, mccErr, 0.60, 0.75, mccTicks, 'MCC', 'A', [[150, 210, 'ESM family', 779], [222, 358, 'ProtBert family', 779]], 'mcc-chart');
  barChart(467, 776, 746, 992, r2Vals, r2Err, 0.65, 0.80, r2Ticks, 'R2', 'B', [[531, 592, 'ESM family', 774], [602, 737, 'ProtBert family', 774]], 'r2-chart');

  const x0 = 834, x1 = 1148, y0 = 742, y1 = 992;
  const sy = lin(0.65, 0.90, y1, y0);
  mk(g, 'rect', {x: x0, y: y0, width: x1 - x0, height: y1 - y0, fill: '#fff', stroke: '#444', 'stroke-width': 2.5}, 'perf-chart-frame');
  perfTicks.forEach(t => {
    mk(g, 'line', {x1: x0, x2: x1, y1: sy(t), y2: sy(t), stroke: '#ddd', 'stroke-dasharray': '4,3'}, 'perf-gridline');
    mk(g, 'text', {x: x0 - 5, y: sy(t) + 4, 'font-size': 11, 'text-anchor': 'end', fill: '#444'}, 'perf-ytick', t.toFixed(2));
  });
  const series = [perfTrans, perfConv, perfDTA, perfDTI], cols = ['#139a13', '#ff1111', '#888', '#a52a2a'];
  const gcx = [890, 991, 1092];
  series.forEach((s, si) => s.forEach((v, gi) => {
    const x = gcx[gi] - 41 + si * 20.5;
    mk(g, 'rect', {x: x, y: sy(v), width: 20.5, height: y1 - sy(v), fill: cols[si]}, 'perf-bar');
    mk(g, 'line', {x1: x + 10, x2: x + 10, y1: sy(v + perfErr[gi]), y2: sy(v - perfErr[gi] * 0.6), stroke: '#222', 'stroke-width': 1.5}, 'perf-errorbar');
    mk(g, 'text', {x: x + 10, y: sy(v + perfErr[gi]) - 4, 'font-size': 8, 'font-weight': 'bold', 'text-anchor': 'middle', fill: '#222'}, 'perf-value-label', v.toFixed(2));
  }));
  perfGroups.forEach((l, i) => mk(g, 'text', {x: gcx[i], y: 1009, 'font-size': 12, 'text-anchor': 'middle', fill: '#444'}, 'perf-xtick', l));
  mk(g, 'text', {x: 991, y: 1027, 'font-size': 13, 'text-anchor': 'middle', fill: '#444'}, 'perf-xlabel', 'Performance metrics');
  mk(g, 'text', {transform: `translate(${x0 - 38},${(y0 + y1) / 2}) rotate(-90)`, 'font-size': 13, 'text-anchor': 'middle', fill: '#444'}, 'perf-ylabel', 'Value');
  mk(g, 'text', {x: 840, y: 732, 'font-size': 22, 'font-weight': 'bold', fill: '#2a4a8a'}, 'perf-panel-label', 'C');
  mk(g, 'rect', {x: 900, y: 750, width: 244, height: 36, fill: '#fff', stroke: '#ddd'}, 'perf-legend');
  [['#139a13', 'Trans-DTI (proposed)', 906, 760], ['#ff1111', 'DeepConv-DTI', 906, 777], ['#888', 'DeepDTA', 1062, 760], ['#a52a2a', 'DeepDTI', 1062, 777]].forEach(e => {
    mk(g, 'rect', {x: e[2], y: e[3] - 5, width: 18, height: 9, fill: e[0]}, 'perf-legend-swatch');
    mk(g, 'text', {x: e[2] + 24, y: e[3] + 4, 'font-size': 10, fill: '#444'}, 'perf-legend-label', e[1]);
  });
})();

// ---------------- boxplots D ----------------
(function () {
  const g = $('pBox');
  mk(g, 'text', {x: 148, y: 1160, 'font-size': 22, 'font-weight': 'bold', fill: '#2a4a8a'}, 'boxplot-panel-label', 'D');
  mk(g, 'text', {transform: 'translate(180,1245) rotate(-90)', 'font-size': 17, 'text-anchor': 'middle', fill: '#333'}, 'auroc-ylabel', 'auROC');
  const panels = [[229, 447, 0.92, 0.97, boxActive, outActive, 'Class I (Active)', '0.95'], [510, 728, 0.92, 0.97, boxInter, outInter, 'Class II (Intermediate)', '0.97'], [793, 1011, 0.90, 0.95, boxInact, outInact, 'Class III (Inactive)', '0.92']];
  panels.forEach(p => {
    const [x0, x1, dmin, dmax, boxes, outs, title, nextTop] = p;
    const y0 = 1152, y1 = 1339;
    const sy = lin(dmin, dmax, y1, y0);
    mk(g, 'rect', {x: x0, y: y0, width: x1 - x0, height: y1 - y0, fill: '#fff', stroke: '#111', 'stroke-width': 3}, 'boxplot-frame');
    for (let k = 0; k <= 5; k++) {
      const t = dmin + k * 0.01;
      mk(g, 'line', {x1: x0, x2: x1, y1: sy(t), y2: sy(t), stroke: '#ccc', 'stroke-dasharray': '4,4'}, 'boxplot-gridline');
      mk(g, 'text', {x: x0 - 6, y: sy(t) + 6, 'font-size': 16, 'text-anchor': 'end', fill: '#333'}, 'boxplot-ytick', t.toFixed(2));
    }
    mk(g, 'text', {x: (x0 + x1) / 2, y: 1144, 'font-size': 18, 'text-anchor': 'middle', fill: '#333'}, 'boxplot-title', title);
    const step = (x1 - x0) / 10.3;
    boxes.forEach((b, i) => {
      const cx = x0 + step * (i + 0.65);
      mk(g, 'line', {x1: cx, x2: cx, y1: sy(b[0]), y2: sy(b[4]), stroke: '#2f8fd0', 'stroke-width': 1.5}, 'boxplot-whisker');
      mk(g, 'line', {x1: cx - 3, x2: cx + 3, y1: sy(b[0]), y2: sy(b[0]), stroke: '#333', 'stroke-width': 1.5}, 'boxplot-cap');
      mk(g, 'line', {x1: cx - 3, x2: cx + 3, y1: sy(b[4]), y2: sy(b[4]), stroke: '#333', 'stroke-width': 1.5}, 'boxplot-cap');
      mk(g, 'rect', {x: cx - 6.5, y: sy(b[3]), width: 13, height: Math.max(2, sy(b[1]) - sy(b[3])), fill: '#fff', stroke: '#2f8fd0', 'stroke-width': 1.8}, 'boxplot-box');
      mk(g, 'line', {x1: cx - 6.5, x2: cx + 6.5, y1: sy(b[2]), y2: sy(b[2]), stroke: '#4caf50', 'stroke-width': 2}, 'boxplot-median');
      outs[i].forEach(o => mk(g, 'circle', {cx: cx, cy: sy(o), r: 3.5, fill: 'none', stroke: '#333', 'stroke-width': 1.3}, 'boxplot-outlier'));
    });
    mk(g, 'text', {x: (x0 + x1) / 2, y: 1378, 'font-size': 18, 'text-anchor': 'middle', fill: '#333'}, 'boxplot-title-row2', title);
    mk(g, 'path', {d: `M${x0},1425 L${x0},1386 L${x1},1386 L${x1},1425`, fill: 'none', stroke: '#111', 'stroke-width': 3}, 'boxplot-frame-row2');
    mk(g, 'text', {x: x0 - 6, y: 1392, 'font-size': 16, 'text-anchor': 'end', fill: '#333'}, 'boxplot-ytick-row2', nextTop);
  });
})();

// ---------------- docking images ----------------
(function () {
  const g = $('pDock');
  mk(g, 'rect', {x: 1175, y: 910, width: 255, height: 238, fill: '#f8e6da'}, 'known-inhibitor-bg');
  mk(g, 'rect', {x: 1432, y: 910, width: 724, height: 238, fill: '#d6eac8'}, 'model-predictions-bg');
  mk(g, 'rect', {x: 1175, y: 1360, width: 258, height: 60, fill: '#f8e6da'}, 'known-inhibitor-bg-row2');
  mk(g, 'rect', {x: 1436, y: 1360, width: 720, height: 60, fill: '#d6eac8'}, 'model-predictions-bg-row2');
  const boxes1 = [[1182, 1420], [1437, 1675], [1675, 1913], [1913, 2152]];
  const boxes2 = [[1189, 1427], [1443, 1675], [1678, 1913], [1915, 2152]];
  const prot1 = [[1318, 820], [1546, 815], [1780, 822], [2008, 822]];
  const circ1 = [[1289, 804], [1543, 804], [1780, 806], [2017, 804]];
  const prot2 = [[1321, 1278], [1552, 1278], [1795, 1278], [2014, 1278]];
  const circ2 = [[1303, 1259], [1553, 1259], [1791, 1256], [2029, 1259]];
  const blobOffsets = [[0, -50, 30, 26], [-28, -25, 30, 30], [25, -30, 32, 30], [-20, 10, 36, 34], [22, 12, 36, 36], [0, 45, 40, 28], [-38, 5, 22, 26], [40, -5, 22, 28], [0, -10, 38, 40]];
  function protein(c, name) {
    blobOffsets.forEach(o => mk(g, 'ellipse', {cx: c[0] + o[0], cy: c[1] + o[1], rx: o[2], ry: o[3], fill: '#d4d4d4', stroke: '#8a8a8a', 'stroke-width': 2}, name));
    blobOffsets.slice(0, 5).forEach(o => mk(g, 'ellipse', {cx: c[0] + o[0] * 0.7, cy: c[1] + o[1] * 0.7, rx: 8, ry: 6, fill: '#eee'}, name + '-highlight'));
  }
  function inset(bx, y0, y1, score, idx, red) {
    const [x0, x1] = bx;
    mk(g, 'rect', {x: x0, y: y0, width: x1 - x0, height: y1 - y0, fill: '#fff'}, 'docking-inset-bg');
    const w = x1 - x0, h = y1 - y0;
    const sh = idx % 3;
    mk(g, 'path', {d: `M${x0 + w * 0.55},${y1} L${x0 + w * (0.85 + sh * 0.03)},${y0 + h * 0.3}`, stroke: '#d27418', 'stroke-width': 18, fill: 'none'}, 'ribbon-strand');
    mk(g, 'path', {d: `M${x0 + w * 0.35},${y1} C${x0 + w * 0.6},${y0 + h * 0.8} ${x0 + w * 0.8},${y0 + h * 0.85} ${x1},${y0 + h * 0.7}`, stroke: '#e08a2a', 'stroke-width': 14, fill: 'none'}, 'ribbon-strand');
    mk(g, 'path', {d: `M${x0 + w * 0.6},${y0 + h * 0.2} C${x0 + w * 0.75},${y0 + h * 0.4} ${x0 + w * 0.5},${y0 + h * 0.55} ${x0 + w * 0.62},${y0 + h * 0.8}`, stroke: '#f0b776', 'stroke-width': 20, fill: 'none', opacity: 0.8}, 'ribbon-helix');
    mk(g, 'path', {d: `M${x0},${y0 + h * 0.15} C${x0 + w * 0.1},${y0 + h * 0.05} ${x0 + w * 0.3},${y0 + h * 0.2} ${x0 + w * 0.2},${y0}`, stroke: '#d98a3a', 'stroke-width': 8, fill: 'none'}, 'ribbon-loop');
    mk(g, 'path', {d: `M${x0 + w * 0.3},${y0 + h * 0.35} l15,-10 l15,12 l-4,18 l-16,4 l-12,-10 z M${x0 + w * 0.35},${y0 + h * 0.55} l-20,18 l-18,6`, stroke: '#b04cb0', 'stroke-width': 4, fill: 'none'}, 'ligand');
    mk(g, 'path', {d: `M${x0 + w * 0.28},${y0 + h * 0.12} l8,20 l-10,12 l14,8`, stroke: '#8fc94a', 'stroke-width': 5, fill: 'none'}, 'residue');
    mk(g, 'rect', {x: x0, y: y0, width: w, height: h, fill: 'none', stroke: red ? '#e02020' : '#5e9a3c', 'stroke-width': 3}, 'docking-inset-frame');
    mk(g, 'rect', {x: x0 + 12, y: y0 + 10, width: 148, height: 24, fill: '#fff', opacity: 0.85}, 'dock-score-bg');
    mk(g, 'text', {x: x0 + 16, y: y0 + 29, 'font-size': 15, 'font-weight': 'bold', fill: '#222'}, 'dock-score-label', 'Dock score: ' + score);
  }
  function row(titles, scores, prots, circs, boxes, yTitle, yBox, yEnd, off) {
    prots.forEach((c, i) => {
      mk(g, 'text', {x: c[0] - 8 + (i === 3 ? 12 : 0), y: yTitle, 'font-size': 16, 'font-weight': 'bold', 'text-anchor': 'middle', fill: '#222'}, 'docking-title', titles[i]);
      protein(c, 'protein-surface');
      const ci = circs[i];
      mk(g, 'ellipse', {cx: ci[0], cy: ci[1], rx: 25, ry: 25, fill: 'none', stroke: '#d21f1f', 'stroke-width': 3}, 'binding-site-circle');
      mk(g, 'path', {d: `M${ci[0] - 5},${ci[1]} l8,-4 l6,5`, stroke: '#b03a8a', 'stroke-width': 3, fill: 'none'}, 'ligand-in-site');
      mk(g, 'line', {x1: ci[0] - 22, y1: ci[1] + 10, x2: boxes[i][0], y2: yBox, stroke: '#222', 'stroke-width': 2}, 'zoom-line-left');
      mk(g, 'line', {x1: ci[0] + 22, y1: ci[1] + 10, x2: boxes[i][1], y2: yBox, stroke: '#222', 'stroke-width': 2}, 'zoom-line-right');
      inset(boxes[i], yBox, yEnd, scores[i], i + off, off > 0 && i === 0);
    });
  }
  row(dockTitles.slice(0, 4), dockScores.slice(0, 4), prot1, circ1, boxes1, 724, 917, 1118, 0);
  row(dockTitles.slice(4), dockScores.slice(4), prot2, circ2, boxes2, 1180, 1368, 1430, 4);
  mk(g, 'text', {x: 1421, y: 1112, 'font-size': 13, 'font-weight': 'bold', 'text-anchor': 'end', fill: '#222'}, 'ic50-label', 'IC50 0.011μM');
  mk(g, 'text', {x: 1303, y: 1141, 'font-size': 18, 'font-weight': 'bold', 'text-anchor': 'middle', fill: '#222'}, 'known-inhibitor-caption', 'Known Inhibitor');
  mk(g, 'text', {x: 1793, y: 1141, 'font-size': 18, 'font-weight': 'bold', 'text-anchor': 'middle', fill: '#222'}, 'model-predictions-caption', 'Model predictions');
})();

// ---------------- docking score dotplots ----------------
(function () {
  const g = $('pDots');
  function dotplot(labels, data, known, x0, xEnd, tick2, name) {
    const sx = lin(2, 14, tick2, tick2 + 12 * 28.3);
    const rowY = i => 730 + i * 30.8;
    labels.forEach((l, i) => {
      mk(g, 'text', {x: x0 - 6, y: rowY(i) + 7, 'font-size': 19, 'text-anchor': 'end', fill: '#333'}, name + '-row-label', l);
      mk(g, 'line', {x1: x0, x2: xEnd, y1: rowY(i), y2: rowY(i), stroke: '#bbb', 'stroke-dasharray': '1.5,2.5', 'stroke-width': 1.2}, name + '-row-guide');
      data[i].forEach(v => mk(g, 'ellipse', {cx: sx(v), cy: rowY(i), rx: 6.5, ry: 7.5, fill: 'none', stroke: '#444', 'stroke-width': 1.6}, name + '-prediction-point'));
    });
    known.forEach(k => mk(g, 'line', {x1: sx(k), x2: sx(k), y1: 711, y2: 1123, stroke: '#e03030', 'stroke-width': 2.5}, name + '-known-inhibitor-line'));
    dockTicks.forEach(t => {
      mk(g, 'line', {x1: sx(t), x2: sx(t), y1: 1124, y2: 1130, stroke: '#555'}, name + '-xtick-mark');
      mk(g, 'text', {x: sx(t), y: 1146, 'font-size': 13, 'text-anchor': 'middle', fill: '#555'}, name + '-xtick', t);
    });
    mk(g, 'text', {x: sx(7.5), y: 1164, 'font-size': 19, 'text-anchor': 'middle', fill: '#333'}, name + '-xlabel', 'Docking score (-ve)');
  }
  dotplot(dockLabels, dockLeft, knownLeft, 2306, 2701, 2335, 'map2k-dotplot');
  dotplot(dockLabelsRight, dockRight, knownRight, 2830, 3227, 2859, 'tgfb-dotplot');
  mk(g, 'rect', {x: 2532, y: 1186, width: 356, height: 30, fill: '#f9dccb'}, 'dotplot-legend-bg');
  mk(g, 'line', {x1: 2550, x2: 2550, y1: 1192, y2: 1211, stroke: '#e03030', 'stroke-width': 2.5}, 'legend-known-swatch');
  mk(g, 'text', {x: 2558, y: 1208, 'font-size': 17, fill: '#333'}, 'legend-known-label', 'Known Inhibitor');
  mk(g, 'text', {x: 2700, y: 1208, 'font-size': 17, fill: '#333'}, 'legend-model-label', 'O Model predictions');
})();

// ---------------- table ----------------
(function () {
  const g = $('pTable');
  mk(g, 'text', {x: 2240, y: 1214, 'font-size': 22, 'font-weight': 'bold', fill: '#222'}, 'table-panel-label', 'C.');
  mk(g, 'line', {x1: 2185, x2: 3235, y1: 1228, y2: 1228, stroke: '#888', 'stroke-width': 4}, 'table-top-rule');
  const colX = [2306, 2371, 2439, 2512, 2576, 2649, 2715, 2786, 2859, 2932, 2997, 3062, 3131, 3200];
  mk(g, 'text', {x: 2375, y: 1252, 'font-size': 17, 'font-weight': 'bold', 'text-anchor': 'middle', fill: '#222'}, 'esm-family-header', 'ESM Family');
  mk(g, 'text', {x: 2688, y: 1252, 'font-size': 17, 'font-weight': 'bold', 'text-anchor': 'middle', fill: '#222'}, 'protbert-family-header', 'ProtBert Family');
  mk(g, 'text', {x: 3101, y: 1252, 'font-size': 17, 'font-weight': 'bold', 'text-anchor': 'middle', fill: '#222'}, 'validation-header', 'Validation');
  mk(g, 'line', {x1: 2273, x2: 2897, y1: 1262, y2: 1262, stroke: '#888', 'stroke-width': 2.5}, 'family-underline');
  mk(g, 'line', {x1: 2963, x2: 3235, y1: 1262, y2: 1262, stroke: '#888', 'stroke-width': 2.5}, 'validation-underline');
  tableCols.forEach((c, i) => c.forEach((s, j) => mk(g, 'text', {x: colX[i], y: (i === 9 ? 1290 : 1283) + j * 20, 'font-size': 16, 'font-weight': 'bold', 'font-style': 'italic', 'text-anchor': 'middle', fill: '#222'}, 'column-header', s)));
  mk(g, 'line', {x1: 2273, x2: 3235, y1: 1329, y2: 1329, stroke: '#888', 'stroke-width': 4}, 'header-rule');
  mk(g, 'text', {x: 2265, y: 1350, 'font-size': 19, 'font-style': 'italic', 'text-anchor': 'middle', fill: '#222'}, 'mean-row-label', 'Mean');
  mk(g, 'text', {x: 2265, y: 1380, 'font-size': 19, 'font-style': 'italic', 'text-anchor': 'middle', fill: '#222'}, 'stdv-row-label', 'Stdv.');
  mk(g, 'text', {transform: 'translate(2218,1362) rotate(-90)', 'font-size': 15, 'font-weight': 'bold', 'text-anchor': 'middle', fill: '#222'}, 'map2k-row-group', 'MAP2K');
  tableMean.forEach((v, i) => mk(g, 'text', {x: colX[i], y: 1350, 'font-size': 19, 'font-weight': i === 4 ? 'bold' : 'normal', 'text-anchor': 'middle', fill: '#222'}, 'mean-cell', v));
  tableStd.forEach((v, i) => mk(g, 'text', {x: colX[i], y: 1380, 'font-size': 19, 'text-anchor': 'middle', fill: '#222'}, 'stdv-cell', v));
})();
</script>
</body></html>
